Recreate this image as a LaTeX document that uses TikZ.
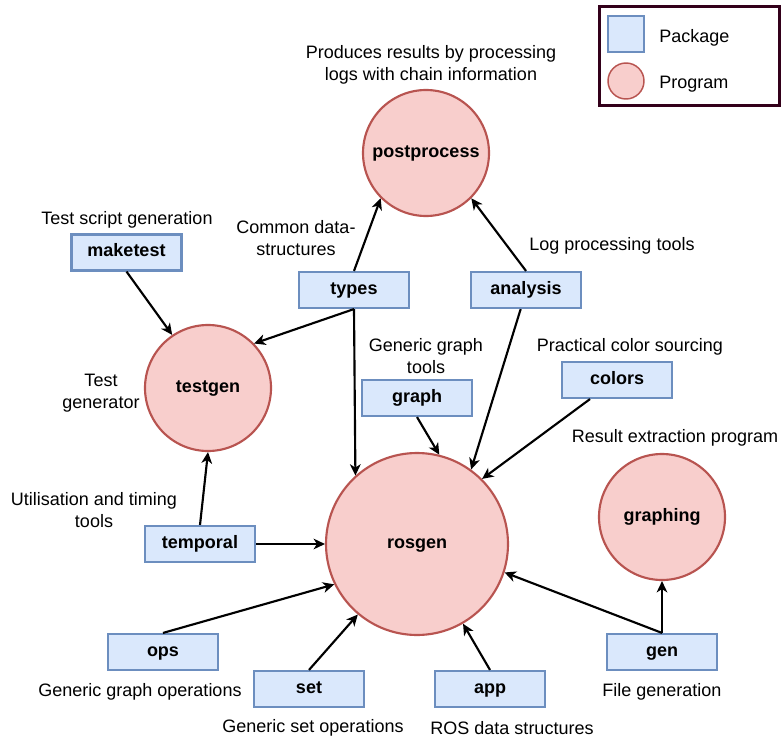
\documentclass[tikz,border=0pt]{standalone}
\usepackage{fontspec}
\setmainfont{Liberation Sans}
\usetikzlibrary{arrows.meta,calc}
\definecolor{pkgfill}{HTML}{DAE8FC}
\definecolor{pkgdraw}{HTML}{6C8EBF}
\definecolor{prgfill}{HTML}{F8CECC}
\definecolor{prgdraw}{HTML}{B85450}
\definecolor{legdraw}{HTML}{33001A}
\newcommand{\diafont}{\fontsize{13.5}{16.5}\selectfont}
\tikzset{
  pkg/.style={draw=pkgdraw,fill=pkgfill,line width=1.6pt,minimum width=82.5pt,minimum height=27pt,inner sep=0pt,font=\diafont\bfseries,text height=0.75em,text depth=0.15em},
  prg/.style={circle,draw=prgdraw,fill=prgfill,line width=1.6pt,minimum size=94.5pt,inner sep=0pt,font=\diafont\bfseries,text height=0.75em,text depth=0.15em},
  lbl/.style={align=center,inner sep=0pt,font=\diafont,yshift=-1.5pt},
  arr/.style={line width=1.6pt,-{Stealth[length=8.5pt,width=8pt,inset=2.5pt]}},
}
\begin{document}
\begin{tikzpicture}[x=0.75pt,y=-0.75pt,font=\diafont]
\useasboundingbox (0,0) rectangle (781,738);
% legend
\node[draw=legdraw,line width=2.25pt,minimum width=180pt*0.75,minimum height=99pt*0.75,inner sep=0pt] (legend) at (689,56.5) {};
\node[draw=pkgdraw,fill=pkgfill,line width=1.1pt,minimum size=27pt,inner sep=0pt] (legpkg) at (626,34) {};
\node[circle,draw=prgdraw,fill=prgfill,line width=1.1pt,minimum size=27pt,inner sep=0pt] (legprg) at (626,81) {};
\node[lbl,anchor=west] (legpkgt) at (659,36) {Package};
\node[lbl,anchor=west] (legprgt) at (659,82) {Program};
% programs
\node[prg] (postprocess) at (426,153) {postprocess};
\node[prg] (testgen) at (208,388) {testgen};
\node[prg,minimum size=136.5pt] (rosgen) at (417,544) {rosgen};
\node[prg] (graphing) at (662,517) {graphing};
% packages
\node[pkg] (maketest) at (126.5,252.5) {maketest};
\node[pkg] (types) at (354,290) {types};
\node[pkg] (analysis) at (526,290) {analysis};
\node[pkg] (graph) at (417,398) {graph};
\node[pkg] (colors) at (617,380) {colors};
\node[pkg] (temporal) at (200,544) {temporal};
\node[pkg] (ops) at (163,652) {ops};
\node[pkg] (set) at (309,689) {set};
\node[pkg] (app) at (490,689) {app};
\node[pkg] (gen) at (662,652) {gen};
% labels
\node[lbl] (lpost) at (431,63) {Produces results by processing\\logs with chain information};
\node[lbl] (lmake) at (127,218) {Test script generation};
\node[lbl] (ltypes) at (296,236) {Common data-\\structures};
\node[lbl] (lanal) at (612,244) {Log processing tools};
\node[lbl] (ltest) at (101,391) {Test\\generator};
\node[lbl] (lgraph) at (426,354) {Generic graph\\tools};
\node[lbl] (lcolors) at (630,345) {Practical color sourcing};
\node[lbl] (lgraphing) at (675,436) {Result extraction program};
\node[lbl] (ltemp) at (94,508) {Utilisation and timing\\tools};
\node[lbl] (lops) at (140,690) {Generic graph operations};
\node[lbl] (lset) at (313,726) {Generic set operations};
\node[lbl] (lapp) at (512,726) {ROS data structures};
\node[lbl] (lgen) at (662,690) {File generation};
% connectors
\draw[arr] (maketest.south) -- (testgen.124);
\draw[arr] (types.north) -- (postprocess.225);
\draw[arr] (types.south) -- (testgen.44);
\draw[arr] (types.south) -- (rosgen.132);
\draw[arr] (analysis.north) -- (postprocess.315);
\draw[arr] ([xshift=-4pt]analysis.south) -- (rosgen.54);
\draw[arr] (graph.south) -- (rosgen.76);
\draw[arr] ([xshift=-20.25pt]colors.south) -- (rosgen.45);
\draw[arr] (temporal.north) -- (testgen.south);
\draw[arr] (temporal.east) -- (rosgen.west);
\draw[arr] (ops.north) -- (rosgen.206);
\draw[arr] (set.north) -- (rosgen.230);
\draw[arr] (app.north) -- (rosgen.300);
\draw[arr] (gen.north) -- (rosgen.342);
\draw[arr] (gen.north) -- (graphing.south);
\end{tikzpicture}
\end{document}
